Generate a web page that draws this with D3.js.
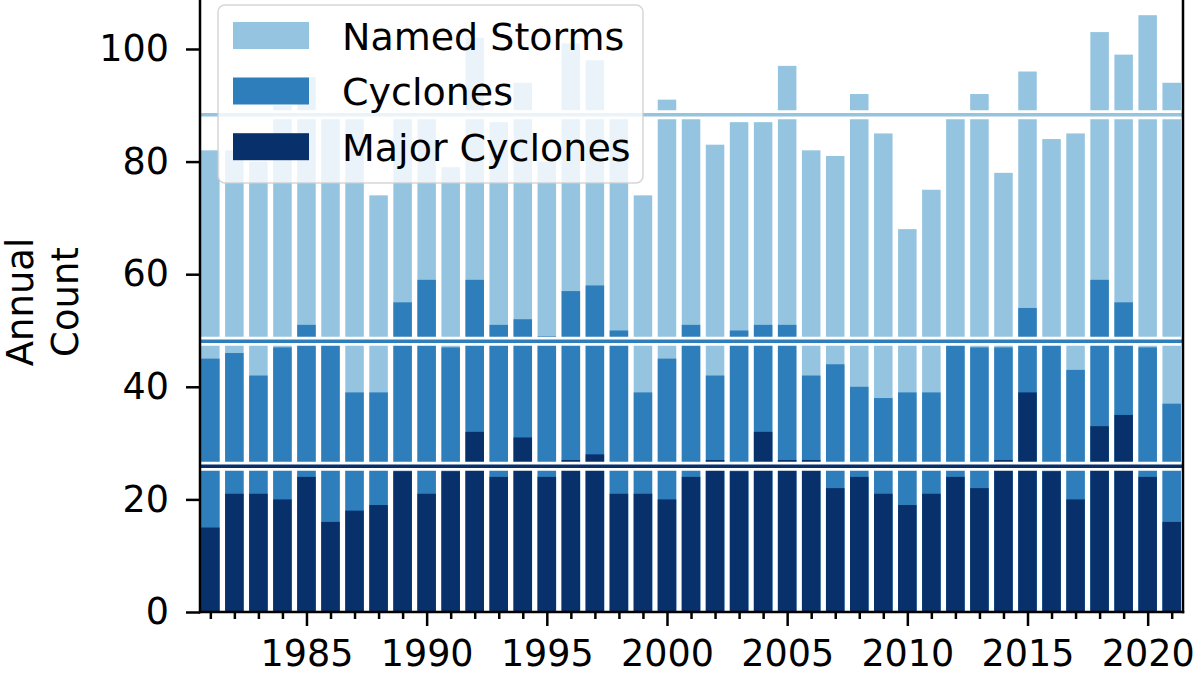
<!DOCTYPE html>
<html>
<head>
<meta charset="utf-8">
<script src="https://cdn.jsdelivr.net/npm/d3@7"></script>
<style>
  html, body { margin: 0; padding: 0; background: #fff; }
  svg { display: block; font-family: "DejaVu Sans", sans-serif; }
</style>
</head>
<body>
<svg id="chart" width="1200" height="675"></svg>
<script>
// data
const YEARS = [1981, 1982, 1983, 1984, 1985, 1986, 1987, 1988, 1989, 1990,
  1991, 1992, 1993, 1994, 1995, 1996, 1997, 1998, 1999, 2000,
  2001, 2002, 2003, 2004, 2005, 2006, 2007, 2008, 2009, 2010,
  2011, 2012, 2013, 2014, 2015, 2016, 2017, 2018, 2019, 2020, 2021];

const NAMED_STORMS = [82, 82, 80, 90, 95, 88, 88, 74, 89, 89,
  79, 102, 87, 94, 80, 101, 98, 89, 74, 91,
  89, 83, 87, 87, 97, 82, 81, 92, 85, 68,
  75, 89, 92, 78, 96, 84, 85, 103, 99, 106, 94];

const CYCLONES = [45, 46, 42, 47, 51, 48, 39, 39, 55, 59,
  47, 59, 51, 52, 49, 57, 58, 50, 39, 45,
  51, 42, 50, 51, 51, 42, 44, 40, 38, 39,
  39, 48, 47, 47, 54, 48, 43, 59, 55, 47, 37];

const MAJOR_CYCLONES = [15, 21, 21, 20, 24, 16, 18, 19, 25, 21,
  25, 32, 24, 31, 24, 27, 28, 21, 21, 20,
  24, 27, 25, 32, 27, 27, 22, 24, 21, 19,
  21, 24, 22, 27, 39, 25, 20, 33, 35, 24, 16];

const SERIES_NAMES = ["Named Storms", "Cyclones", "Major Cyclones"];
const MEAN_LEVELS = [88.3, 48.1, 25.9];

const Y_TICKS = [0, 20, 40, 60, 80, 100];
const X_TICK_LABELS = [1985, 1990, 1995, 2000, 2005, 2010, 2015, 2020];
const Y_LABEL_LINES = ["Annual", "Count"];

// styling
const COLORS = ["#94c4df", "#2e7ebc", "#08306b"];
const FONT_SIZE = 36.5;
const LEGEND_FONT_SIZE = 38;

const plot = { left: 200, right: 1183, top: 0, bottom: 612 };

const svg = d3.select("#chart");

const x = d3.scaleLinear()
  .domain([1980.57, 2021.47])
  .range([plot.left, plot.right]);

const y = d3.scaleLinear()
  .domain([0, 108.7])
  .range([plot.bottom, plot.top]);

const barWidth = (x(1) - x(0)) * 0.77;

svg.append("clipPath")
  .attr("id", "plotClip")
  .append("rect")
  .attr("x", plot.left)
  .attr("y", plot.top)
  .attr("width", plot.right - plot.left)
  .attr("height", plot.bottom - plot.top);

const plotArea = svg.append("g").attr("clip-path", "url(#plotClip)");

const allSeries = [NAMED_STORMS, CYCLONES, MAJOR_CYCLONES];

allSeries.forEach((values, i) => {
  plotArea.append("g")
    .selectAll("rect")
    .data(values)
    .join("rect")
    .attr("x", (d, j) => x(YEARS[j]) - barWidth / 2)
    .attr("y", (d) => y(d))
    .attr("width", barWidth)
    .attr("height", (d) => y(0) - y(d))
    .attr("fill", COLORS[i]);
});

// mean lines with a white halo
MEAN_LEVELS.forEach((level, i) => {
  plotArea.append("line")
    .attr("x1", plot.left).attr("x2", plot.right)
    .attr("y1", y(level)).attr("y2", y(level))
    .attr("stroke", "#fff")
    .attr("stroke-width", 9);
  plotArea.append("line")
    .attr("x1", plot.left).attr("x2", plot.right)
    .attr("y1", y(level)).attr("y2", y(level))
    .attr("stroke", COLORS[i])
    .attr("stroke-width", 3.5);
});

// axes
const yAxis = svg.append("g")
  .attr("transform", "translate(" + plot.left + ",0)")
  .call(d3.axisLeft(y).tickValues(Y_TICKS).tickSize(14).tickSizeOuter(0).tickPadding(17));

const xAxis = svg.append("g")
  .attr("transform", "translate(0," + plot.bottom + ")")
  .call(d3.axisBottom(x).tickValues(X_TICK_LABELS).tickFormat(d3.format("d"))
    .tickSize(14).tickSizeOuter(0).tickPadding(14));

const minorYears = YEARS.filter((yr) => X_TICK_LABELS.indexOf(yr) == -1);
const xMinor = svg.append("g")
  .attr("transform", "translate(0," + plot.bottom + ")")
  .call(d3.axisBottom(x).tickValues(minorYears).tickFormat("")
    .tickSize(7).tickSizeOuter(0));

[yAxis, xAxis, xMinor].forEach((ax) => {
  ax.select(".domain").remove();
  ax.selectAll(".tick line").attr("stroke", "#000").attr("stroke-width", 2.5);
  ax.selectAll(".tick text")
    .attr("fill", "#000")
    .style("font-size", FONT_SIZE + "px")
    .style("font-family", "DejaVu Sans");
});

// spines
const spines = [
  [plot.left, plot.top, plot.left, plot.bottom],
  [plot.right, plot.top, plot.right, plot.bottom],
  [plot.left, plot.bottom, plot.right, plot.bottom]
];
svg.append("g")
  .selectAll("line")
  .data(spines)
  .join("line")
  .attr("x1", (d) => d[0]).attr("y1", (d) => d[1])
  .attr("x2", (d) => d[2]).attr("y2", (d) => d[3])
  .attr("stroke", "#000")
  .attr("stroke-width", 2.5)
  .attr("stroke-linecap", "square");

// y label, two lines
const yMid = (plot.top + plot.bottom) / 2 - 4;
Y_LABEL_LINES.forEach((line, i) => {
  svg.append("text")
    .attr("transform", "translate(" + (33 + i * 45) + "," + yMid + ") rotate(-90)")
    .attr("text-anchor", "middle")
    .style("font-size", "37px")
    .text(line);
});

// legend
const legend = svg.append("g");
legend.append("rect")
  .attr("x", 218).attr("y", 5)
  .attr("width", 425).attr("height", 178)
  .attr("rx", 7).attr("ry", 7)
  .attr("fill", "#fff")
  .attr("fill-opacity", 0.8)
  .attr("stroke", "#cccccc")
  .attr("stroke-opacity", 0.8)
  .attr("stroke-width", 1.5);

const rowY = [35.5, 91, 146.7];
SERIES_NAMES.forEach((name, i) => {
  legend.append("rect")
    .attr("x", 233).attr("y", rowY[i] - 13.5)
    .attr("width", 76).attr("height", 27)
    .attr("fill", COLORS[i]);
  legend.append("text")
    .attr("x", 342).attr("y", rowY[i] + 14)
    .style("font-size", LEGEND_FONT_SIZE + "px")
    .text(name);
});
</script>
</body>
</html>
